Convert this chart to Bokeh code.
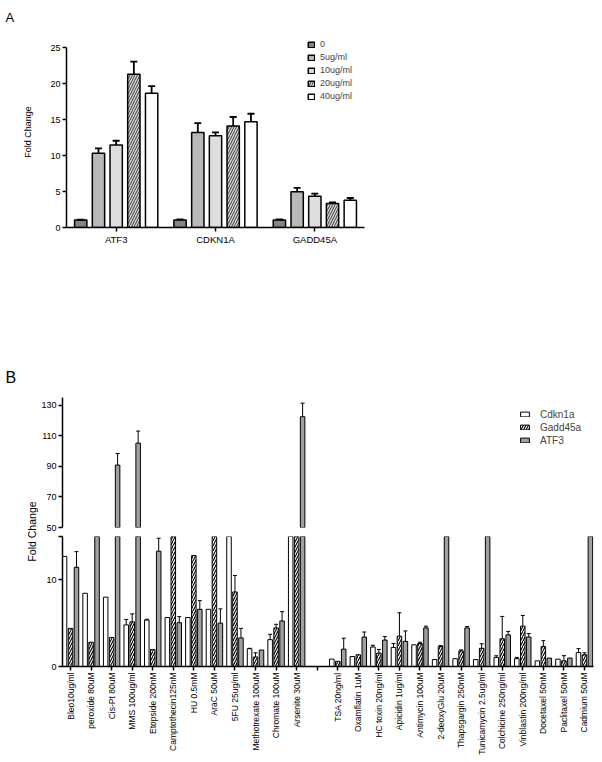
import numpy as np
from bokeh.plotting import figure
from bokeh.models import FixedTicker, Range1d, Legend, LegendItem
from bokeh.layouts import column, row
from bokeh.embed import file_html
from bokeh.resources import INLINE
from bokeh.core.properties import value

FONT = "Liberation Sans"
nan = float("nan")

# ---------------- Panel A data ----------------
genes_a = ["ATF3", "CDKN1A", "GADD45A"]
doses_a = ["0", "5ug/ml", "10ug/ml", "20ug/ml", "40ug/ml"]
fold_0 = [1.05, 1.05, 1.05]
fold_5 = [10.3, 13.2, 4.95]
fold_10 = [11.45, 12.75, 4.35]
fold_20 = [21.3, 14.1, 3.35]
fold_40 = [18.65, 14.7, 3.8]
err_0 = [0.05, 0.08, 0.06]
err_5 = [0.7, 1.3, 0.55]
err_10 = [0.6, 0.45, 0.35]
err_20 = [1.75, 1.25, 0.15]
err_40 = [1.0, 1.1, 0.3]
yticks_a = [0, 5, 10, 15, 20, 25]

# ---------------- Panel B data ----------------
drugs = ["Bleo10ug/ml", "peroxide 80uM", "Cis-Pt 80uM", "MMS 100ug/ml", "Etopside 200nM",
         "Camptothecin125nM", "HU 0.5mM", "AraC 50uM", "5FU 25ug/ml", "Methotrexate 100uM",
         "Chromate 100uM", "Arsenite 30uM", "",
         "TSA 20ng/ml", "Oxamflatin 1uM", "HC toxin 20ng/ml", "Apicidin 1ug/ml",
         "Antimycin 100uM", "2-deoxyGlu 20uM", "Thapsgargin 250nM", "Tunicamycin 2.5ug/ml",
         "Colchicine 250ng/ml", "Vinblastin 200ng/ml", "Docetaxel 50nM", "Paclitaxel 50nM",
         "Cadmium 50uM"]
cdkn1a = [12.7, 8.45, 8.0, 4.8, 5.35, 5.65, 5.65, 6.6, 24.0, 2.05, 3.1, 30.0, nan,
          0.85, 1.15, 2.25, 2.2, 2.5, 0.8, 0.9, 0.8, 1.05, 0.9, 0.65, 0.85, 1.6]
cdkn1a_err = [0, 0, 0, 0.62, 0.1, 0, 0, 0, 0, 0.05, 0.62, 0, nan,
              0, 0, 0.2, 0.46, 0, 0, 0, 0, 0.19, 0.15, 0, 0, 0.46]
gadd45a = [4.4, 2.8, 3.35, 5.15, 1.95, 27.0, 12.8, 26.0, 8.6, 1.1, 4.45, 38.0, nan,
           0.6, 1.35, 1.55, 3.5, 2.65, 2.3, 1.8, 2.1, 3.2, 4.65, 2.3, 0.65, 1.35]
gadd45a_err = [0, 0, 0, 0.92, 0, 0, 0, 0, 1.9, 0.48, 0.42, 0, nan,
               0, 0, 0.42, 2.7, 0.15, 0.12, 0.12, 0.52, 2.58, 1.23, 0.68, 0.6, 0.23]
atf3 = [11.45, 32.0, 90.9, 105.3, 13.3, 5.05, 6.6, 5.0, 3.3, 1.9, 5.25, 122.6, nan,
        2.0, 3.4, 3.05, 2.9, 4.45, 28.0, 4.45, 34.0, 3.65, 3.4, 0.97, 0.97, 22.0]
atf3_err = [1.8, 0, 7.6, 7.9, 1.5, 0.7, 1.0, 1.65, 1.1, 0, 1.08, 8.9, nan,
            1.27, 0.58, 0.4, 1.2, 0.2, 0, 0.15, 0, 0.4, 0.4, 0, 0, 0]
yticks_upper = [50, 70, 90, 110, 130]
yticks_lower = [0, 10, 15]


def style_axis(ax, size="9px"):
    ax.axis_line_width = 1.5
    ax.axis_line_color = "black"
    ax.major_tick_line_width = 1.5
    ax.major_tick_out = 4
    ax.major_tick_in = 0
    ax.minor_tick_out = 0
    ax.minor_tick_in = 0
    ax.major_label_text_font = FONT
    ax.major_label_text_font_size = size
    ax.major_label_text_color = "black"
    ax.axis_label_text_font = FONT
    ax.axis_label_text_font_style = "normal"
    ax.axis_label_text_color = "black"


def blank_panel(w, h):
    f = figure(frame_width=w, frame_height=h, x_range=Range1d(0, w), y_range=Range1d(0, h),
               min_border=0, output_backend="svg", toolbar_location=None)
    f.outline_line_color = None
    f.axis.visible = False
    f.grid.visible = False
    return f


# ================= Panel A =================
A_TOP, A_FRAME, A_BOTTOM = 36, 191, 113
pa = figure(frame_width=298, frame_height=A_FRAME, x_range=Range1d(-0.5, 2.5), y_range=Range1d(0, 26.53),
            min_border_left=44, min_border_top=A_TOP, min_border_right=10, min_border_bottom=A_BOTTOM,
            output_backend="svg", toolbar_location=None)
pa.outline_line_color = None
pa.xgrid.visible = False
pa.ygrid.visible = False

a_vals = [fold_0, fold_5, fold_10, fold_20, fold_40]
a_errs = [err_0, err_5, err_10, err_20, err_40]
a_offsets = [-0.357, -0.178, 0.0, 0.178, 0.357]
a_styles = [dict(fill_color="#858585"), dict(fill_color="#b8b8b8"), dict(fill_color="#dedede"),
            dict(fill_color="#d4d4d4", hatch_pattern="/", hatch_color="#3c3c3c", hatch_scale=5,
                 hatch_weight=1.0),
            dict(fill_color="#ffffff")]
a_items = []
for dose, vals, errs, off, st in zip(doses_a, a_vals, a_errs, a_offsets, a_styles):
    xs = np.arange(len(genes_a)) + off
    v = np.array(vals)
    e = np.array(errs)
    r = pa.vbar(x=xs, top=v, width=0.124, line_color="black", line_width=1.5, **st)
    pa.segment(x0=xs, y0=v, x1=xs, y1=v + e, line_color="black", line_width=1.8)
    pa.scatter(x=xs, y=v + e, marker="dash", size=7, line_color="black", line_width=1.8)
    a_items.append(LegendItem(label=dose, renderers=[r]))

leg_a = Legend(items=a_items, location=(241, 126), padding=0, margin=0, spacing=3,
               border_line_color=None, background_fill_alpha=0,
               glyph_width=8, glyph_height=7, label_height=7, label_standoff=5,
               label_text_font=FONT, label_text_font_size="9px")
pa.add_layout(leg_a)

pa.xaxis.ticker = FixedTicker(ticks=list(range(len(genes_a))))
pa.xaxis.major_label_overrides = {i: g for i, g in enumerate(genes_a)}
style_axis(pa.xaxis[0], "9.5px")
pa.xaxis.major_label_standoff = 2
pa.yaxis.ticker = FixedTicker(ticks=yticks_a)
pa.yaxis.bounds = (0, 25)
style_axis(pa.yaxis[0], "9px")
pa.yaxis.major_label_standoff = 2
pa.yaxis.axis_label = "Fold Change"
pa.yaxis.axis_label_text_font_size = "9px"
pa.yaxis.axis_label_standoff = 14

A_H = A_TOP + A_FRAME + A_BOTTOM
labA = blank_panel(20, A_H)
labA.text(x=[5], y=[A_H - 16.7], text=["A"], text_font=value(FONT), text_font_size="13px",
          text_align="left", text_baseline="alphabetic", text_color="black")

# ================= Panel B =================
n = len(drugs)
xr_b = Range1d(-0.39, 25.44)

pu = figure(frame_width=531, frame_height=130, x_range=xr_b, y_range=Range1d(50, 135.2),
            min_border_left=24, min_border_right=1, min_border_top=57, min_border_bottom=4,
            output_backend="svg", toolbar_location=None)
pl = figure(frame_width=531, frame_height=130, x_range=xr_b, y_range=Range1d(0, 15),
            min_border_left=24, min_border_right=1, min_border_top=5, min_border_bottom=86,
            output_backend="svg", toolbar_location=None)

series = [("Cdkn1a", cdkn1a, cdkn1a_err, -0.29, dict(fill_color="#ffffff")),
          ("Gadd45a", gadd45a, gadd45a_err, 0.0,
           dict(fill_color="#ffffff", hatch_pattern="/", hatch_color="black", hatch_scale=5,
                hatch_weight=1.1)),
          ("ATF3", atf3, atf3_err, 0.29, dict(fill_color="#a0a0a0"))]

b_items = []
for fig in (pu, pl):
    fig.outline_line_color = None
    fig.xgrid.visible = False
    fig.ygrid.visible = False
    lo = fig.y_range.start
    for name, vals, errs, off, st in series:
        v = np.array(vals, dtype=float)
        e = np.array(errs, dtype=float)
        idx = np.arange(n)
        m = ~np.isnan(v) & (np.nan_to_num(v) > lo)
        xs = idx[m] + off
        fig.vbar(x=xs, top=v[m], width=0.22, line_color="black", line_width=1, **st)
        me = m & (np.nan_to_num(e) > 0)
        xe = idx[me] + off
        fig.segment(x0=xe, y0=v[me], x1=xe, y1=v[me] + e[me], line_color="black", line_width=1)
        fig.scatter(x=xe, y=v[me] + e[me], marker="dash", size=4, line_color="black", line_width=1)
        if fig is pu:
            # hidden full-series renderer used only as the legend swatch
            ok = ~np.isnan(v)
            lr = fig.vbar(x=idx[ok] + off, top=v[ok], width=0.22, line_color="black",
                          line_width=1, visible=False, **st)
            b_items.append(LegendItem(label=name, renderers=[lr]))

leg_b = Legend(items=b_items, location=(457, 81), padding=0, margin=0, spacing=1,
               border_line_color=None, background_fill_alpha=0, inactive_fill_alpha=0,
               glyph_width=11, glyph_height=6, label_height=12, label_standoff=10,
               label_text_font=FONT, label_text_font_size="10px")
pu.add_layout(leg_b)

pu.xaxis.visible = False
pu.yaxis.ticker = FixedTicker(ticks=yticks_upper)
style_axis(pu.yaxis[0], "9px")
pu.yaxis.major_label_standoff = 2

pl.yaxis.ticker = FixedTicker(ticks=yticks_lower)
pl.yaxis.major_label_overrides = {15: ""}
style_axis(pl.yaxis[0], "9px")
pl.yaxis.major_label_standoff = 2
pl.xaxis.ticker = FixedTicker(ticks=list(range(n)))
pl.xaxis.major_label_overrides = {i: d for i, d in enumerate(drugs)}
style_axis(pl.xaxis[0], "8.5px")
pl.xaxis.major_label_orientation = np.pi / 2
pl.xaxis.major_label_standoff = 2

labB = blank_panel(38, 300)
labB.text(x=[5], y=[263], text=["B"], text_font=value(FONT), text_font_size="16px",
          text_align="left", text_baseline="alphabetic", text_color="black")
labB.text(x=[31.5], y=[109], text=["Fold Change"], angle=np.pi / 2, text_font=value(FONT),
          text_font_size="10.5px", text_align="center", text_baseline="middle", text_color="black")

layout = column(row(labA, column(pa)), row(labB, column(pu, pl)))
open("out.html", "w").write(file_html(layout, INLINE))
